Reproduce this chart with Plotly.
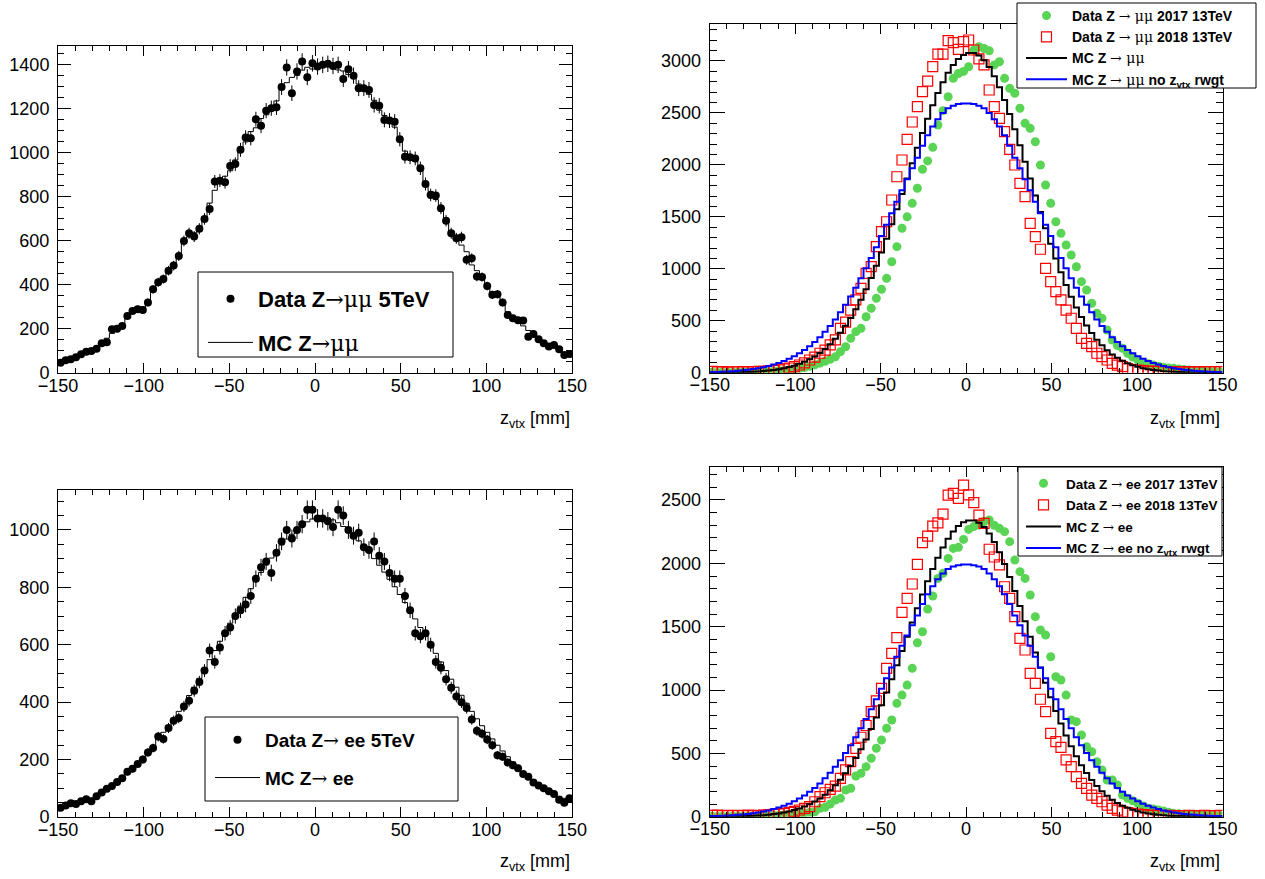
import numpy as np
import plotly.graph_objects as go

# ---------------- binning ----------------
N_BINS = 100
Z_MIN, Z_MAX = -150.0, 150.0
BW = (Z_MAX - Z_MIN) / N_BINS
centers = Z_MIN + BW * (np.arange(N_BINS) + 0.5)
edges = Z_MIN + BW * np.arange(N_BINS + 1)

# ---------------- top-left: Z->mumu 5 TeV ----------------
tl_data = [47, 58, 63, 72, 85, 97, 100, 110, 135, 140,
           199, 201, 214, 259, 282, 290, 286, 320, 380, 412,
           427, 465, 488, 532, 600, 635, 620, 655, 700, 745,
           870, 874, 867, 941, 949, 1014, 1070, 1067, 1153, 1123,
           1192, 1203, 1207, 1299, 1388, 1271, 1370, 1415, 1344, 1407,
           1392, 1400, 1405, 1395, 1400, 1336, 1380, 1351, 1294, 1294,
           1286, 1218, 1214, 1150, 1147, 1142, 1062, 983, 980, 975,
           930, 859, 809, 806, 749, 692, 635, 612, 617, 514,
           521, 438, 436, 395, 355, 358, 320, 264, 249, 240,
           238, 165, 177, 153, 135, 120, 127, 108, 82, 86]
tl_mc = [52, 57, 64, 73, 85, 94, 102, 115, 128, 158,
         180, 205, 225, 252, 277, 286, 299, 329, 371, 406,
         435, 460, 495, 540, 590, 618, 637, 658, 700, 772,
         830, 870, 894, 919, 968, 1011, 1050, 1097, 1114, 1156,
         1173, 1200, 1236, 1298, 1319, 1343, 1352, 1376, 1389, 1381,
         1400, 1399, 1400, 1400, 1377, 1372, 1356, 1342, 1313, 1291,
         1266, 1239, 1194, 1170, 1146, 1117, 1062, 1008, 979, 962,
         921, 866, 825, 788, 749, 692, 646, 621, 581, 551,
         491, 465, 423, 395, 369, 344, 314, 278, 251, 242,
         214, 193, 165, 155, 136, 127, 118, 106, 92, 84]

# ---------------- bottom-left: Z->ee 5 TeV ----------------
bl_data = [32, 40, 48, 45, 55, 62, 55, 72, 85, 98,
           108, 122, 135, 158, 168, 185, 200, 225, 240, 280,
           272, 310, 335, 345, 385, 405, 440, 470, 510, 580,
           540, 590, 640, 660, 700, 720, 740, 770, 830, 870,
           890, 850, 920, 960, 1000, 970, 1000, 1020, 1070, 1070,
           1040, 1040, 1030, 1010, 1070, 1050, 1000, 980, 990, 940,
           930, 960, 910, 890, 850, 830, 830, 770, 720, 640,
           630, 640, 600, 540, 520, 480, 450, 420, 400, 380,
           340, 300, 290, 270, 250, 215, 210, 190, 180, 170,
           150, 140, 120, 110, 100, 90, 80, 60, 50, 65]
bl_mc = [35, 40, 45, 50, 55, 60, 66, 73, 82, 93,
         105, 118, 133, 150, 167, 185, 205, 225, 248, 272,
         295, 318, 342, 368, 395, 423, 452, 483, 515, 548,
         580, 612, 643, 675, 705, 735, 765, 795, 825, 852,
         878, 902, 925, 948, 968, 985, 1000, 1015, 1028, 1038,
         1043, 1045, 1042, 1035, 1025, 1012, 997, 980, 962, 942,
         922, 900, 877, 853, 828, 802, 775, 747, 718, 690,
         660, 630, 600, 570, 540, 510, 480, 452, 424, 396,
         368, 342, 318, 295, 272, 250, 230, 210, 192, 175,
         158, 143, 128, 115, 102, 91, 81, 72, 65, 60]

# ---------------- top-right: Z->mumu 13 TeV ----------------
tr_data17 = [5, 3, 4, 3, 5, 4, 6, 6, 7, 9,
             10, 12, 15, 19, 22, 28, 34, 42, 50, 62,
             75, 92, 110, 129, 154, 202, 250, 331, 395, 427,
             539, 620, 716, 803, 908, 1068, 1213, 1390, 1500, 1630,
             1775, 1958, 2038, 2169, 2384, 2522, 2656, 2833, 2880, 2900,
             2945, 3105, 3138, 3120, 3099, 2962, 2993, 2833, 2737, 2690,
             2545, 2400, 2352, 2223, 1999, 1807, 1630, 1453, 1341, 1229,
             1133, 1020, 876, 796, 668, 572, 524, 411, 315, 262,
             235, 187, 150, 122, 100, 85, 74, 62, 52, 46,
             42, 35, 30, 26, 22, 18, 15, 13, 11, 10]
tr_data18 = [12, 8, 10, 6, 9, 7, 10, 8, 11, 12,
             14, 17, 22, 28, 36, 45, 58, 74, 95, 122,
             150, 187, 218, 267, 315, 427, 487, 603, 700, 812,
             956, 1020, 1213, 1357, 1453, 1662, 1886, 2047, 2246, 2413,
             2560, 2705, 2807, 2945, 3067, 3067, 3196, 3176, 3112, 3186,
             3202, 3106, 3020, 2962, 2721, 2560, 2448, 2320, 2150, 1999,
             1823, 1694, 1438, 1309, 1188, 1005, 876, 780, 700, 603,
             524, 427, 331, 283, 250, 187, 154, 122, 90, 72,
             58, 40, 30, 26, 20, 16, 14, 12, 10, 9,
             8, 10, 7, 8, 9, 8, 10, 9, 10, 11]
tr_mc = [1, 1, 2, 2, 3, 4, 5, 7, 10, 12,
         16, 21, 27, 34, 43, 55, 68, 85, 105, 129,
         157, 190, 229, 274, 326, 384, 451, 526, 610, 701,
         803, 912, 1030, 1156, 1289, 1428, 1572, 1720, 1868, 2017,
         2164, 2307, 2445, 2573, 2691, 2796, 2887, 2962, 3019, 3058,
         3078, 3077, 3054, 3008, 2941, 2853, 2747, 2625, 2490, 2344,
         2190, 2030, 1868, 1706, 1547, 1391, 1241, 1099, 967, 843,
         731, 628, 536, 454, 382, 318, 264, 217, 176, 143,
         115, 92, 72, 57, 44, 34, 26, 20, 15, 11,
         8, 6, 5, 3, 2, 2, 1, 1, 1, 1]
tr_mc_norw = [6, 7, 9, 12, 15, 19, 23, 29, 35, 43,
              53, 64, 78, 94, 112, 134, 158, 186, 219, 255,
              296, 342, 394, 450, 513, 581, 654, 734, 818, 909,
              1005, 1104, 1208, 1315, 1423, 1534, 1645, 1756, 1862, 1967,
              2068, 2185, 2285, 2370, 2440, 2500, 2545, 2570, 2585, 2592,
              2592, 2585, 2570, 2545, 2500, 2440, 2370, 2285, 2185, 2068,
              1967, 1862, 1756, 1645, 1534, 1423, 1315, 1208, 1104, 1005,
              909, 818, 734, 654, 581, 513, 450, 394, 342, 296,
              255, 219, 186, 158, 134, 112, 94, 78, 64, 53,
              43, 35, 29, 23, 19, 15, 12, 9, 7, 6]

# ---------------- bottom-right: Z->ee 13 TeV ----------------
br_data17 = [3, 2, 3, 2, 3, 4, 3, 5, 5, 6,
             7, 8, 10, 12, 14, 17, 20, 24, 30, 35,
             39, 66, 75, 100, 132, 145, 211, 224, 321, 342,
             395, 461, 540, 605, 698, 763, 895, 960, 1039, 1171,
             1373, 1460, 1639, 1742, 1881, 1921, 2039, 2118, 2126, 2189,
             2268, 2290, 2302, 2330, 2342, 2300, 2276, 2250, 2171, 2026,
             1934, 1881, 1750, 1579, 1474, 1434, 1263, 1105, 1079, 960,
             763, 750, 645, 552, 513, 434, 369, 290, 290, 250,
             171, 145, 125, 106, 85, 66, 60, 53, 45, 35,
             26, 24, 20, 18, 15, 14, 12, 11, 10, 10]
br_data18 = [10, 12, 8, 11, 9, 10, 8, 12, 9, 11,
             13, 15, 18, 22, 27, 33, 42, 53, 66, 79,
             118, 158, 189, 215, 242, 303, 370, 434, 540, 627,
             720, 829, 915, 1013, 1171, 1289, 1413, 1613, 1724, 1837,
             1992, 2163, 2215, 2294, 2320, 2389, 2539, 2552, 2513, 2618,
             2540, 2479, 2381, 2316, 2111, 2050, 1987, 1815, 1724, 1579,
             1408, 1316, 1132, 1053, 927, 829, 658, 592, 548, 448,
             395, 316, 263, 224, 171, 145, 118, 92, 66, 52,
             39, 32, 26, 20, 16, 13, 11, 10, 9, 10,
             8, 9, 8, 10, 9, 8, 10, 9, 8, 10]
br_mc = [1, 1, 2, 2, 2, 3, 4, 5, 8, 9,
         12, 16, 21, 26, 33, 42, 52, 65, 80, 98,
         119, 144, 174, 208, 248, 292, 343, 400, 464, 533,
         610, 693, 783, 879, 980, 1085, 1195, 1307, 1420, 1533,
         1645, 1753, 1858, 1955, 2045, 2125, 2194, 2251, 2294, 2324,
         2339, 2339, 2321, 2286, 2235, 2168, 2088, 1995, 1892, 1781,
         1664, 1543, 1420, 1297, 1176, 1057, 943, 835, 735, 641,
         556, 477, 407, 345, 290, 242, 201, 165, 134, 109,
         87, 70, 55, 43, 33, 26, 20, 15, 11, 8,
         6, 5, 4, 2, 2, 2, 1, 1, 1, 1]
br_mc_norw = [5, 5, 7, 9, 12, 15, 18, 22, 27, 33,
              41, 49, 60, 72, 86, 103, 121, 143, 168, 196,
              227, 263, 303, 346, 394, 446, 502, 564, 628, 698,
              772, 848, 928, 1010, 1093, 1178, 1263, 1349, 1430, 1511,
              1588, 1678, 1755, 1820, 1874, 1920, 1955, 1974, 1985, 1991,
              1991, 1985, 1974, 1955, 1920, 1874, 1820, 1755, 1678, 1588,
              1511, 1430, 1349, 1263, 1178, 1093, 1010, 928, 848, 772,
              698, 628, 564, 502, 446, 394, 346, 303, 263, 227,
              196, 168, 143, 121, 103, 86, 72, 60, 49, 41,
              33, 27, 22, 18, 15, 12, 9, 7, 5, 5]

# ---------------- style ----------------
W, H = 1265, 879
FONT = "Liberation Sans"
SYM = "font-family:DejaVu Serif;font-weight:normal"
GREEN = "rgb(89,212,84)"


def px(x):
    return x / W


def py(y):
    return 1 - y / H


def step_y(vals):
    return list(vals) + [vals[-1]]


fig = go.Figure()

# top-left
fig.add_trace(go.Scatter(
    x=centers, y=tl_data, mode="markers", xaxis="x", yaxis="y",
    marker=dict(color="black", size=8),
    error_y=dict(type="data", array=np.sqrt(tl_data), width=0, thickness=1, color="black"),
    name=f"Data Z<span style='{SYM}'>→μμ</span> 5TeV", legend="legend", legendgroup="a1"))
fig.add_trace(go.Scatter(
    x=edges, y=step_y(tl_mc), mode="lines", line=dict(color="black", width=1, shape="hv"),
    xaxis="x", yaxis="y",
    name=f"MC Z<span style='{SYM}'>→μμ</span>", legend="legend", legendgroup="a2"))

# top-right
fig.add_trace(go.Scatter(
    x=centers, y=tr_data17, mode="markers", xaxis="x2", yaxis="y2",
    marker=dict(color=GREEN, size=9),
    name=f"Data Z <span style='{SYM}'>→ μμ</span> 2017 13TeV", legend="legend2"))
fig.add_trace(go.Scatter(
    x=centers, y=tr_data18, mode="markers", xaxis="x2", yaxis="y2",
    marker=dict(color="red", size=10, symbol="square-open", line=dict(color="red", width=1.2)),
    name=f"Data Z <span style='{SYM}'>→ μμ</span> 2018 13TeV", legend="legend2"))
fig.add_trace(go.Scatter(
    x=edges, y=step_y(tr_mc), mode="lines", line=dict(color="black", width=2, shape="hv"),
    xaxis="x2", yaxis="y2",
    name=f"MC Z <span style='{SYM}'>→ μμ</span>", legend="legend2"))
fig.add_trace(go.Scatter(
    x=edges, y=step_y(tr_mc_norw), mode="lines", line=dict(color="blue", width=2, shape="hv"),
    xaxis="x2", yaxis="y2",
    name=f"MC Z <span style='{SYM}'>→ μμ</span> no z<sub>vtx</sub> rwgt", legend="legend2"))

# bottom-left
fig.add_trace(go.Scatter(
    x=centers, y=bl_data, mode="markers", xaxis="x3", yaxis="y3",
    marker=dict(color="black", size=8),
    error_y=dict(type="data", array=np.sqrt(bl_data), width=0, thickness=1, color="black"),
    name=f"Data Z<span style='{SYM}'>→</span> ee 5TeV", legend="legend3", legendgroup="c1"))
fig.add_trace(go.Scatter(
    x=edges, y=step_y(bl_mc), mode="lines", line=dict(color="black", width=1, shape="hv"),
    xaxis="x3", yaxis="y3",
    name=f"MC Z<span style='{SYM}'>→</span> ee", legend="legend3", legendgroup="c2"))

# bottom-right
fig.add_trace(go.Scatter(
    x=centers, y=br_data17, mode="markers", xaxis="x4", yaxis="y4",
    marker=dict(color=GREEN, size=9),
    name=f"Data Z <span style='{SYM}'>→</span> ee 2017 13TeV", legend="legend4", legendgroup="d1"))
fig.add_trace(go.Scatter(
    x=centers, y=br_data18, mode="markers", xaxis="x4", yaxis="y4",
    marker=dict(color="red", size=10, symbol="square-open", line=dict(color="red", width=1.2)),
    name=f"Data Z <span style='{SYM}'>→</span> ee 2018 13TeV", legend="legend4", legendgroup="d2"))
fig.add_trace(go.Scatter(
    x=edges, y=step_y(br_mc), mode="lines", line=dict(color="black", width=2, shape="hv"),
    xaxis="x4", yaxis="y4",
    name=f"MC Z <span style='{SYM}'>→</span> ee", legend="legend4", legendgroup="d3"))
fig.add_trace(go.Scatter(
    x=edges, y=step_y(br_mc_norw), mode="lines", line=dict(color="blue", width=2, shape="hv"),
    xaxis="x4", yaxis="y4",
    name=f"MC Z <span style='{SYM}'>→</span> ee no z<sub>vtx</sub> rwgt", legend="legend4", legendgroup="d4"))

TICKFONT = dict(family=FONT, size=18, color="black")


def xaxis(domain, anchor):
    return dict(domain=domain, anchor=anchor, range=[Z_MIN, Z_MAX], automargin=False,
                tickmode="linear", tick0=0, dtick=50,
                ticks="inside", ticklen=10, tickwidth=1, tickcolor="black",
                minor=dict(tick0=0, dtick=10, ticks="inside", ticklen=5, tickwidth=1, tickcolor="black"),
                showline=True, linecolor="black", linewidth=1, mirror="ticks",
                showgrid=False, zeroline=False, tickfont=TICKFONT, ticklabelstandoff=-4)


def yaxis(domain, anchor, ymax, dtick, mdtick, tl=13):
    return dict(domain=domain, anchor=anchor, range=[0, ymax], automargin=False,
                tickmode="linear", tick0=0, dtick=dtick,
                ticks="inside", ticklen=tl, tickwidth=1, tickcolor="black",
                minor=dict(tick0=0, dtick=mdtick, ticks="inside", ticklen=int(tl / 2), tickwidth=1, tickcolor="black"),
                showline=True, linecolor="black", linewidth=1, mirror="ticks",
                showgrid=False, zeroline=False, tickfont=TICKFONT, ticklabelstandoff=4)


XL = [px(58), px(572)]
XR = [px(709.7), px(1222.5)]

fig.update_layout(
    width=W, height=H, margin=dict(l=0, r=0, t=0, b=0, autoexpand=False),
    paper_bgcolor="white", plot_bgcolor="white", showlegend=True,
    xaxis=xaxis(XL, "y"),
    yaxis=yaxis([py(373), py(45.7)], "x", 1487, 200, 50),
    xaxis2=xaxis(XR, "y2"),
    yaxis2=yaxis([py(372.7), py(24)], "x2", 3356, 500, 100, 15),
    xaxis3=xaxis(XL, "y3"),
    yaxis3=yaxis([py(817), py(490)], "x3", 1139, 200, 50),
    xaxis4=xaxis(XR, "y4"),
    yaxis4=yaxis([py(816.7), py(467.3)], "x4", 2758, 500, 100, 15),
)

LEG = dict(bgcolor="rgba(0,0,0,0)", borderwidth=0, xanchor="left", yanchor="top",
           traceorder="grouped")
fig.update_layout(
    legend=dict(LEG, x=px(203), y=py(278), itemwidth=45, tracegroupgap=12,
                font=dict(family=FONT, size=22, color="black", weight="bold")),
    legend2=dict(LEG, x=px(1021), y=py(0), itemwidth=41, tracegroupgap=0, traceorder="normal",
                 font=dict(family=FONT, size=14, color="black", weight="bold")),
    legend3=dict(LEG, x=px(210), y=py(721), itemwidth=45, tracegroupgap=10,
                 font=dict(family=FONT, size=19, color="black", weight="bold")),
    legend4=dict(LEG, x=px(1021), y=py(468), itemwidth=35, tracegroupgap=1,
                 font=dict(family=FONT, size=13.5, color="black", weight="bold")),
)

# legend frames
frames = [(198, 272, 453, 357), (1017, 3, 1256, 88), (205, 717, 458, 801), (1018, 467, 1222, 556)]
for x0, y0, x1, y1 in frames:
    fig.add_shape(type="rect", xref="paper", yref="paper", x0=px(x0), x1=px(x1), y0=py(y1), y1=py(y0),
                  line=dict(color="black", width=1), fillcolor="white", layer="above")

# axis titles
for xr, yr in [(572, 419), (1222, 419), (572, 862), (1222, 862)]:
    fig.add_annotation(xref="paper", yref="paper", x=px(xr), y=py(yr), xanchor="right", yanchor="middle",
                       text="z<sub>vtx</sub> [mm]", showarrow=False,
                       font=dict(family=FONT, size=18, color="black"))

fig.write_html("out.html", config={"displayModeBar": False},
               post_script="document.body.style.margin='0px';")
